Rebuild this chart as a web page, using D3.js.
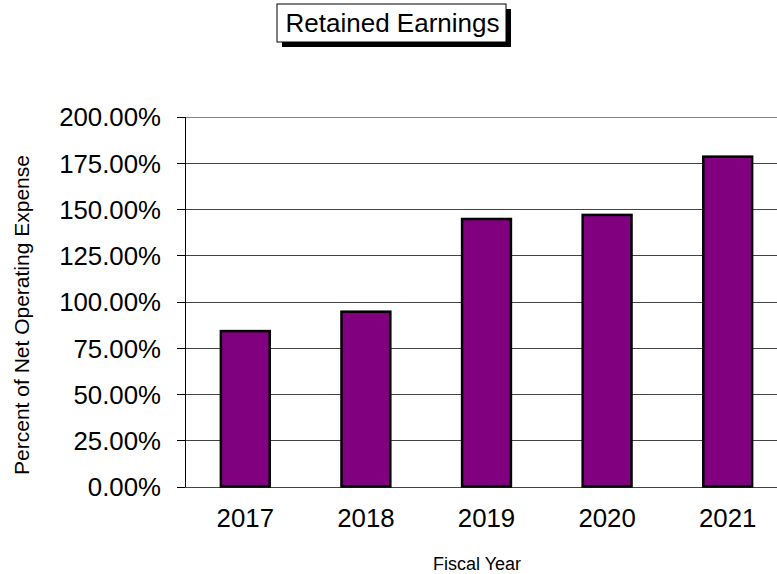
<!DOCTYPE html>
<html>
<head>
<meta charset="utf-8">
<script src="https://cdn.jsdelivr.net/npm/d3@7/dist/d3.min.js"></script>
<style>
  html, body { margin: 0; padding: 0; background: #fff; }
  svg { display: block; font-family: Arial, "Liberation Sans", sans-serif; }
</style>
</head>
<body>
<svg id="chart" width="777" height="574"></svg>
<script>
// Retained earnings as a percent of net operating expense, by fiscal year
const years = ["2017", "2018", "2019", "2020", "2021"];
const values = [84.0, 94.5, 144.6, 146.8, 178.3];
const yTicks = [0, 25, 50, 75, 100, 125, 150, 175, 200];
const chartTitle = "Retained Earnings";
const xTitle = "Fiscal Year";
const yTitle = "Percent of Net Operating Expense";

const svg = d3.select("#chart");
const W = 777, H = 574;
const plot = { left: 185, right: 788, top: 116.5, bottom: 486.5 };

const x = d3.scaleBand().domain(years).range([plot.left, plot.right]).paddingInner(0.595).paddingOuter(0.2975);
const y = d3.scaleLinear().domain([0, 200]).range([plot.bottom, plot.top]);

// horizontal gridlines, extended left to form the tick marks
const grid = svg.append("g")
  .attr("transform", `translate(${plot.left},0)`)
  .call(d3.axisLeft(y).tickValues(yTicks).tickSize(-(W - plot.left + 20)).tickFormat(""));
grid.select(".domain").remove();
grid.selectAll(".tick line").attr("stroke", "#444").attr("stroke-width", 1).attr("shape-rendering", "crispEdges");
grid.selectAll(".tick").filter(d => d === 200).select("line").attr("stroke", "#888");

// tick stubs and labels on the left
const yAxis = svg.append("g")
  .attr("transform", `translate(${plot.left},0)`)
  .call(d3.axisLeft(y).tickValues(yTicks).tickSize(8).tickPadding(16).tickFormat(d => d3.format(".2f")(d) + "%"));
yAxis.select(".domain").remove();
yAxis.selectAll(".tick line").attr("stroke", "#000").attr("shape-rendering", "crispEdges");
yAxis.selectAll(".tick text").attr("font-size", "25.8px").attr("fill", "#000").attr("dy", "0.36em")
  .attr("font-family", "Arial, 'Liberation Sans', sans-serif");

// vertical axis line
svg.append("line")
  .attr("x1", plot.left).attr("x2", plot.left)
  .attr("y1", y(200)).attr("y2", y(0))
  .attr("stroke", "#000").attr("stroke-width", 1).attr("shape-rendering", "crispEdges");

// bars
svg.append("g").selectAll("rect")
  .data(years.map((yr, i) => ({ yr, v: values[i] })))
  .join("rect")
  .attr("x", d => x(d.yr))
  .attr("y", d => y(d.v))
  .attr("width", x.bandwidth())
  .attr("height", d => y(0) - y(d.v))
  .attr("fill", "#800080")
  .attr("stroke", "#000")
  .attr("stroke-width", 2.5);

// category labels
const xAxis = svg.append("g")
  .attr("transform", `translate(0,${plot.bottom})`)
  .call(d3.axisBottom(x).tickSize(0).tickPadding(22));
xAxis.select(".domain").remove();
xAxis.selectAll(".tick text").attr("font-size", "25.8px").attr("fill", "#000")
  .attr("font-family", "Arial, 'Liberation Sans', sans-serif");

// axis titles
svg.append("text")
  .attr("x", 477).attr("y", 570)
  .attr("text-anchor", "middle")
  .attr("font-size", "18px")
  .text(xTitle);

svg.append("text")
  .attr("transform", "translate(29,315) rotate(-90)")
  .attr("text-anchor", "middle")
  .attr("font-size", "21px")
  .text(yTitle);

// title box with drop shadow
const tb = { x: 277, y: 4, w: 229, h: 38, sh: 5 };
svg.append("rect")
  .attr("x", tb.x + tb.sh).attr("y", tb.y + tb.sh)
  .attr("width", tb.w).attr("height", tb.h)
  .attr("fill", "#000");
svg.append("rect")
  .attr("x", tb.x).attr("y", tb.y)
  .attr("width", tb.w).attr("height", tb.h)
  .attr("fill", "#fff").attr("stroke", "#000").attr("stroke-width", 1);
svg.append("text")
  .attr("x", tb.x + tb.w / 2 + 1).attr("y", tb.y + 28)
  .attr("text-anchor", "middle")
  .attr("font-size", "26px")
  .text(chartTitle);
</script>
</body>
</html>
